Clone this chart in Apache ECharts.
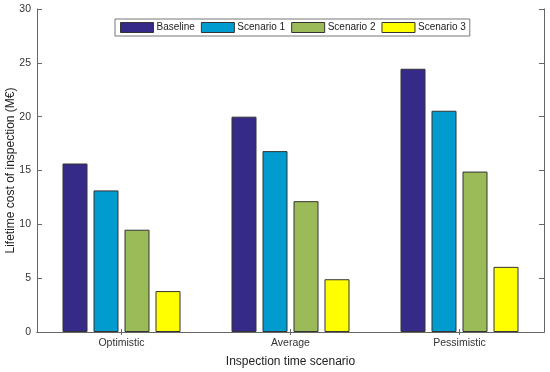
<!DOCTYPE html>
<html><head><meta charset="utf-8">
<script src="https://cdn.jsdelivr.net/npm/echarts@6/dist/echarts.min.js"></script>
<style>html,body{margin:0;padding:0;background:#fff}#c{width:550px;height:372px}</style>
</head><body><div id="c"></div>
<script>
var categories = ['Optimistic', 'Average', 'Pessimistic'];
var seriesNames = ['Baseline', 'Scenario 1', 'Scenario 2', 'Scenario 3'];
var baseline = [15.65, 20.0, 24.45];
var scenario1 = [13.15, 16.8, 20.55];
var scenario2 = [9.5, 12.15, 14.9];
var scenario3 = [3.8, 4.9, 6.05];
var yTicks = [0, 5, 10, 15, 20, 25, 30];
var colors = ['#352a87', '#009ccf', '#9bbb59', '#ffff00'];
var values = [baseline, scenario1, scenario2, scenario3];

var font = 'Liberation Sans, Arial, sans-serif';
var axisCol = '#666';
var chart = echarts.init(document.getElementById('c'), null, {renderer: 'canvas'});
chart.setOption({
  animation: false,
  backgroundColor: '#fff',
  textStyle: {fontFamily: font},
  grid: {left: 37, right: 6, top: 9, bottom: 40, containLabel: false, outerBoundsMode: 'none'},
  legend: {
    data: seriesNames,
    left: 115, top: 19,
    orient: 'horizontal',
    itemWidth: 33, itemHeight: 10, itemGap: 6,
    padding: [3, 4, 3, 5],
    borderColor: '#777', borderWidth: 1, backgroundColor: '#fff',
    textStyle: {fontSize: 10, color: '#222', fontFamily: font, padding: [0, 0, 0, -2]},
    icon: 'rect',
    itemStyle: {borderColor: '#333', borderWidth: 1}
  },
  xAxis: [{
    type: 'category', data: categories, position: 'bottom',
    name: 'Inspection time scenario', nameLocation: 'middle', nameGap: 24, nameMoveOverlap: false,
    nameTextStyle: {fontSize: 12, color: '#222', fontFamily: font},
    axisLine: {lineStyle: {color: axisCol, width: 1}},
    axisTick: {show: true, inside: true, alignWithLabel: true, length: 3, lineStyle: {color: axisCol}},
    axisLabel: {fontSize: 10.5, color: '#333', margin: 6, fontFamily: font},
    splitLine: {show: false}
  }, {
    type: 'category', data: categories, position: 'top',
    axisLine: {lineStyle: {color: axisCol, width: 1}},
    axisTick: {show: true, inside: true, alignWithLabel: true, length: 3, lineStyle: {color: axisCol}},
    axisLabel: {show: false}
  }],
  yAxis: [{
    type: 'value', min: yTicks[0], max: yTicks[yTicks.length - 1], interval: yTicks[1] - yTicks[0],
    position: 'left',
    name: 'Lifetime cost of inspection (M€)', nameLocation: 'middle', nameGap: 20, nameMoveOverlap: false,
    nameTextStyle: {fontSize: 12, color: '#222', fontFamily: font},
    axisLine: {show: true, lineStyle: {color: axisCol, width: 1}},
    axisTick: {show: true, inside: true, length: 5, lineStyle: {color: axisCol}},
    axisLabel: {fontSize: 10.5, color: '#333', margin: 6, fontFamily: font},
    splitLine: {show: false}
  }, {
    type: 'value', min: yTicks[0], max: yTicks[yTicks.length - 1], interval: yTicks[1] - yTicks[0],
    position: 'right',
    axisLine: {show: true, lineStyle: {color: axisCol, width: 1}},
    axisTick: {show: true, inside: true, length: 5, lineStyle: {color: axisCol}},
    axisLabel: {show: false},
    splitLine: {show: false}
  }],
  series: seriesNames.map(function (n, i) {
    return {
      name: n, type: 'bar', xAxisIndex: 0, yAxisIndex: 0,
      data: values[i], barWidth: 25, barGap: '24%',
      itemStyle: {color: colors[i], borderColor: '#333', borderWidth: 1}
    };
  })
});
</script></body></html>
